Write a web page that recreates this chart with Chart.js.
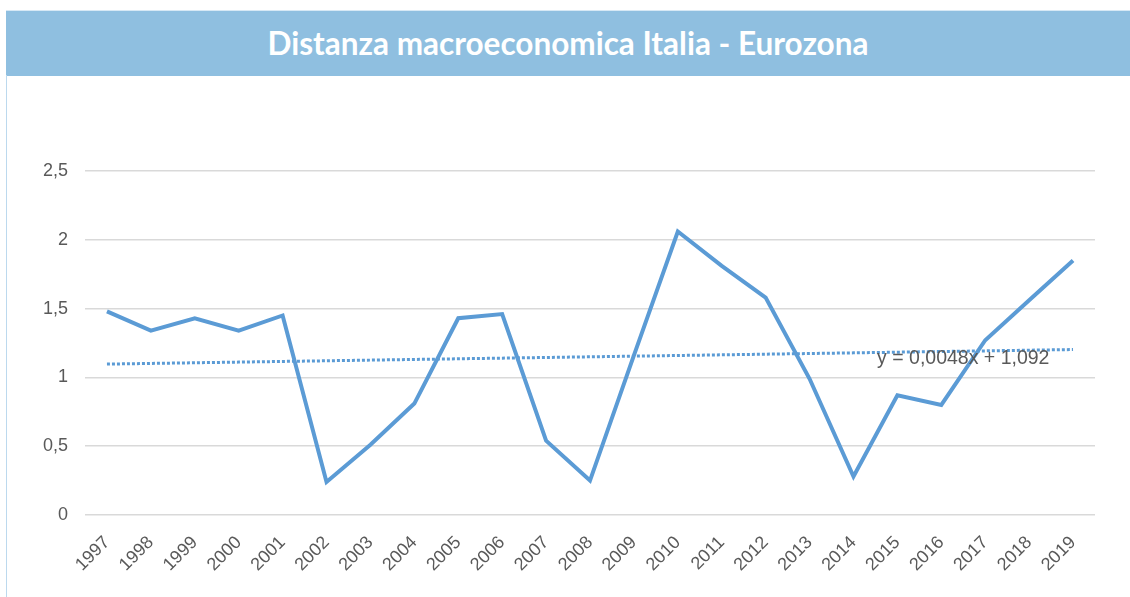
<!DOCTYPE html>
<html>
<head>
<meta charset="utf-8">
<script src="https://cdn.jsdelivr.net/npm/chart.js@4.4.1/dist/chart.umd.min.js"></script>
<style>
  html, body { margin: 0; padding: 0; background: #fff; }
  body { width: 1130px; height: 597px; position: relative; overflow: hidden; }
  .banner {
    position: absolute; left: 6px; top: 10px; width: 1124px; height: 65px;
    background: #8fbfe0; border-top: 1px solid #d6e8f5;
    color: #fff; font-family: Lato, "Open Sans", sans-serif; font-weight: bold;
    font-size: 31.5px; text-align: center; line-height: 64px;
  }
  .leftline { position: absolute; left: 6px; top: 75px; width: 1px; height: 522px; background: #bcd9ee; }
  .wrap { position: absolute; left: 0; top: 0; width: 1130px; height: 597px; }
</style>
</head>
<body>
<div class="wrap"><canvas id="chart"></canvas></div>
<div class="banner">Distanza macroeconomica Italia - Eurozona</div>
<div class="leftline"></div>
<script>
const years = ["1997","1998","1999","2000","2001","2002","2003","2004","2005","2006","2007","2008","2009","2010","2011","2012","2013","2014","2015","2016","2017","2018","2019"];
const distanza = [1.48,1.34,1.43,1.34,1.45,0.24,0.51,0.81,1.43,1.46,0.54,0.25,1.16,2.06,1.81,1.58,0.99,0.28,0.87,0.80,1.27,1.56,1.85];
const trendSlope = 0.0048;
const trendIntercept = 1.092;
const trendLabel = "y = 0,0048x + 1,092";
const yTicks = [0, 0.5, 1, 1.5, 2, 2.5];

const trend = years.map((y, i) => trendSlope * (i + 1) + trendIntercept);

const trendText = {
  id: "trendText",
  afterDatasetsDraw(chart) {
    const { ctx, scales } = chart;
    const x = (scales.x.getPixelForValue(19) + scales.x.getPixelForValue(20)) / 2;
    const y = scales.y.getPixelForValue(1.14);
    ctx.save();
    ctx.font = "19.5px 'Liberation Sans', Arial, sans-serif";
    ctx.fillStyle = "#595959";
    ctx.textAlign = "center";
    ctx.textBaseline = "middle";
    ctx.fillText(trendLabel, x, y);
    ctx.restore();
  },
};

new Chart(document.getElementById("chart").getContext("2d"), {
  type: "line",
  data: {
    labels: years,
    datasets: [
      {
        label: "Distanza",
        data: distanza,
        borderColor: "#5b9bd5",
        borderWidth: 4,
        pointRadius: 0,
        tension: 0,
        borderJoinStyle: "miter",
      },
      {
        label: "Tendenza",
        data: trend,
        borderColor: "#5b9bd5",
        borderWidth: 3,
        borderDash: [3, 2],
        pointRadius: 0,
        tension: 0,
      },
    ],
  },
  options: {
    responsive: true,
    maintainAspectRatio: false,
    animation: false,
    layout: { padding: { top: 171, right: 35, left: 0, bottom: 0 } },
    plugins: { legend: { display: false }, tooltip: { enabled: false } },
    scales: {
      x: {
        offset: true,
        grid: { display: false },
        border: { display: false },
        ticks: {
          minRotation: 45,
          maxRotation: 45,
          padding: 9,
          font: { family: "'Liberation Sans', Arial", size: 18 },
          color: "#595959",
        },
        afterFit: (s) => { s.height = 82; },
      },
      y: {
        min: 0,
        max: 2.5,
        afterBuildTicks: (s) => { s.ticks = yTicks.map((v) => ({ value: v })); },
        grid: { color: "#d9d9d9", lineWidth: 1.5, drawTicks: false },
        border: { display: false },
        ticks: {
          padding: 17,
          font: { family: "'Liberation Sans', Arial", size: 18 },
          color: "#595959",
          callback: (v) => String(v).replace(".", ","),
        },
        afterFit: (s) => { s.width = 85; },
      },
    },
  },
  plugins: [trendText],
});
</script>
</body>
</html>
